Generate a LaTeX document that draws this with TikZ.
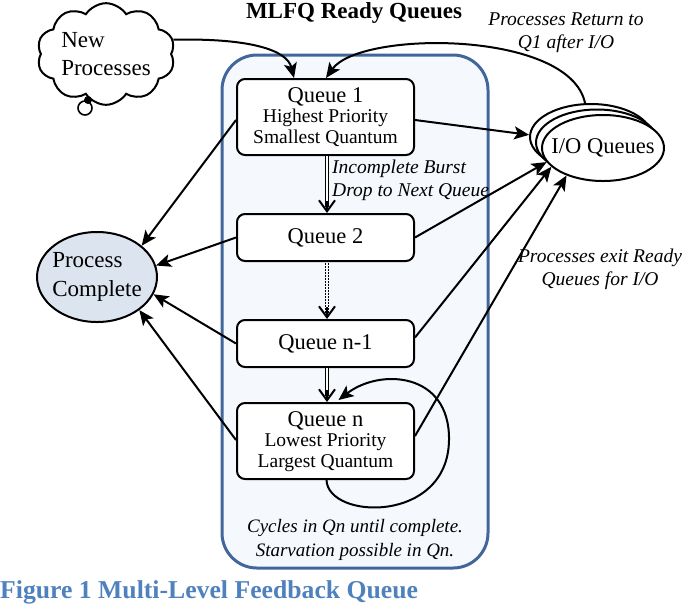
\documentclass[tikz,border=0pt]{standalone}
\usepackage{fontspec}
\setmainfont{Liberation Serif}
\usetikzlibrary{arrows.meta,shapes.geometric,shapes.symbols,calc}
\definecolor{frameblue}{HTML}{41669B}
\definecolor{framefill}{HTML}{F5F9FD}
\definecolor{pcfill}{HTML}{DCE4F0}
\definecolor{capblue}{HTML}{4F81BD}
\begin{document}
\begin{tikzpicture}[x=1pt,y=-1pt,
  qbox/.style={draw, line width=2pt, rounded corners=8pt, fill=white, minimum width=177pt, inner sep=0pt, align=center},
  arr/.style={line width=2pt, -{Stealth[length=15pt,width=13pt,inset=3.5pt]}},
  lbl/.style={font=\fontsize{19.5}{23}\selectfont\itshape, align=center, inner sep=0pt},
  dbl/.style={double, double distance=2.4pt, line width=1pt},
  vtip/.style={line width=2pt, -{Straight Barb[length=11pt,width=16pt]}},
  dotline/.style={line width=1.5pt, dash pattern=on 1.6pt off 1.4pt},
  ioell/.style={ellipse, draw, line width=2pt, fill=white, minimum width=122pt, minimum height=66pt, inner sep=-12pt},
  bigtext/.style={font=\fontsize{22.5}{27}\selectfont},
  subtext/.style={font=\fontsize{19.5}{20.5}\selectfont}
 ]
\useasboundingbox (0,0) rectangle (684,606);
% container
\node[draw=frameblue, line width=3pt, fill=framefill, rounded corners=35pt, minimum width=266pt, minimum height=513pt, inner sep=0pt] (ready) at (355,311.5) {};
\node[font=\bfseries\fontsize{23}{23}\selectfont, inner sep=0pt] (title) at (354,13) {MLFQ Ready Queues};
% queues
\node[qbox, minimum height=76pt, subtext, text depth=3pt] (q1) at (325.5,117) {{\fontsize{22.5}{21}\selectfont Queue 1}\\Highest Priority\\Smallest Quantum};
\node[qbox, minimum height=47pt, bigtext] (q2) at (325.5,237.5) {Queue 2};
\node[qbox, minimum height=47pt, bigtext] (qm) at (325.5,343.5) {Queue n-1};
\node[qbox, minimum height=76pt, subtext, text depth=3pt] (qn) at (325.5,441) {{\fontsize{22.5}{21}\selectfont Queue n}\\Lowest Priority\\Largest Quantum};
% process complete
\node[ellipse, draw, line width=2pt, fill=pcfill, minimum width=120pt, minimum height=90pt, inner sep=-10pt, align=left, font=\fontsize{23}{29}\selectfont] (pc) at (97,277) {Process\\Complete};
% cloud
\node[cloud, cloud puffs=10, cloud puff arc=115, aspect=1.5, draw, line width=2pt, fill=white, minimum width=138pt, minimum height=94pt, inner sep=0pt, align=left, font=\fontsize{23}{28}\selectfont] (new) at (106,54) {New\\Processes};
\node[circle, draw, line width=1.6pt, fill=white, minimum size=14pt, inner sep=0pt] (b2) at (85,108) {};
\node[circle, fill, minimum size=8pt, inner sep=0pt] (b1) at (88,100) {};
% I/O queues
\node[ioell] (ioA) at (591,137) {};
\node[ioell] (ioB) at (597,142.5) {};
\node[ioell, bigtext] (io) at (603,148) {I/O Queues};
% arrows into Q1
\draw[arr] (new.12) .. controls (250,38) and (287,50) .. ($(q1.north west)+(58,0)$);
\draw[arr] (ioA.100) .. controls (570,30) and (360,30) .. ($(q1.north west)+(90,0)$);
% arrows to I/O
\draw[arr] ($(q1.east)+(0,3)$) -- (ioA.178);
\draw[arr] (q2.east) -- (io.194);
\draw[arr] ($(qm.east)+(0,-6)$) -- (io.200);
\draw[arr] ($(qn.east)+(0,-5)$) -- (io.217);
% arrows to process complete
\draw[arr] ($(q1.west)+(0,3)$) -- (pc.35);
\draw[arr] (q2.west) -- (pc.11);
\draw[arr] (qm.west) -- (pc.-17);
\draw[arr] ($(qn.west)+(0,-1)$) -- (pc.-38);
% drop arrows
\draw[dbl] ($(q1.south)+(1.5,0)$) -- ($(q2.north)+(1.5,-6)$);
\draw[vtip] ($(q2.north)+(1.5,-12)$) -- ($(q2.north)+(1.5,0)$);
\draw[dotline] ($(q2.south)+(0,1)$) -- ($(qm.north)+(0,-6)$);
\draw[dotline] ($(q2.south)+(3,1)$) -- ($(qm.north)+(3,-6)$);
\draw[vtip] ($(qm.north)+(1.5,-12)$) -- ($(qm.north)+(1.5,0)$);
\draw[dbl] ($(qm.south)+(1.5,0)$) -- ($(qn.north)+(1.5,-6)$);
\draw[vtip] ($(qn.north)+(1.5,-12)$) -- ($(qn.north)+(1.5,0)$);
% self loop
\draw[arr] ($(qn.south)+(1,0)$) .. controls (328,520) and (448,524) .. (449,440) .. controls (450,372) and (380,368) .. ($(qn.north)+(13,-2)$);
% labels
\node[lbl] (retlbl) at (566,33) {Processes Return to\\Q1 after I/O};
\node[lbl, align=left, anchor=west] (droplbl) at (332,180) {Incomplete Burst\\Drop to Next Queue};
\node[lbl] (exitlbl) at (600,269) {Processes exit Ready\\Queues for I/O};
\node[lbl, font=\fontsize{19}{24}\selectfont\itshape] (cyclbl) at (355,540) {Cycles in Qn until complete.\\Starvation possible in Qn.};
\node[anchor=west, font=\bfseries\fontsize{25.7}{26}\selectfont, text=capblue, inner sep=0pt] (cap) at (0,592) {Figure 1 Multi-Level Feedback Queue};
\end{tikzpicture}
\end{document}
